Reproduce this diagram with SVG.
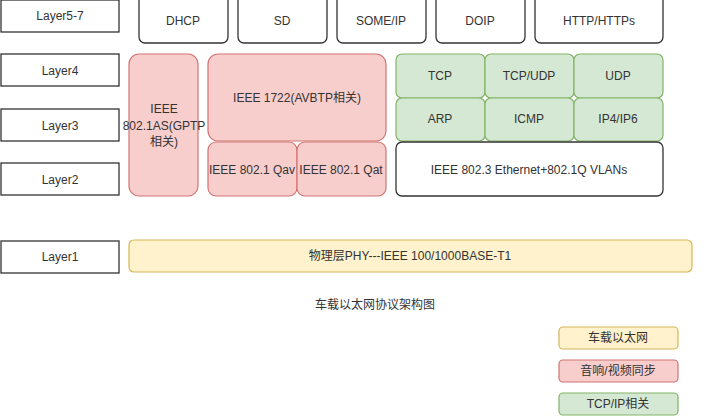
<svg xmlns="http://www.w3.org/2000/svg" width="728" height="419" viewBox="0 0 728 419">
<style>
text{font-family:"Liberation Sans","Noto Sans CJK SC",sans-serif;font-size:12px;fill:#333;text-anchor:middle;dominant-baseline:central}
.L{fill:#fff;stroke:#333;stroke-width:1.3}
.W{fill:#fff;stroke:#333;stroke-width:1.3}
.R{fill:#f8cecc;stroke:#d27474;stroke-width:1.2}
.G{fill:#d5e8d4;stroke:#82b366;stroke-width:1.2}
.Y{fill:#fff2cc;stroke:#d6b656;stroke-width:1.2}
</style>
<rect width="728" height="419" fill="#fff"/>
<g id="layer57"><rect class="L" x="1" y="0" width="118" height="32"/><text x="60" y="16">Layer5-7</text></g>
<g id="layer4"><rect class="L" x="1" y="54" width="118" height="32"/><text x="60" y="71">Layer4</text></g>
<g id="layer3"><rect class="L" x="1" y="109" width="118" height="32"/><text x="60" y="126">Layer3</text></g>
<g id="layer2"><rect class="L" x="1" y="163" width="118" height="32"/><text x="60" y="180">Layer2</text></g>
<g id="layer1"><rect class="L" x="1" y="241" width="118" height="32"/><text x="60" y="257">Layer1</text></g>
<g id="dhcp"><rect class="W" x="139" y="-6" width="89" height="49" rx="6"/><text x="183" y="21">DHCP</text></g>
<g id="sd"><rect class="W" x="238" y="-6" width="89" height="49" rx="6"/><text x="282" y="21">SD</text></g>
<g id="someip"><rect class="W" x="337" y="-6" width="89" height="49" rx="6"/><text x="381" y="21">SOME/IP</text></g>
<g id="doip"><rect class="W" x="436" y="-6" width="89" height="49" rx="6"/><text x="480" y="21">DOIP</text></g>
<g id="http"><rect class="W" x="535" y="-6" width="128" height="49" rx="6"/><text x="599" y="21">HTTP/HTTPs</text></g>
<g id="gptp"><rect class="R" x="129" y="54" width="69" height="142" rx="10"/><text x="164" y="109">IEEE</text><text x="164" y="126">802.1AS(GPTP</text><text x="164" y="142">相关)</text></g>
<g id="ieee1722"><rect class="R" x="208" y="54" width="178" height="87" rx="10"/><text x="297" y="98">IEEE 1722(AVBTP相关)</text></g>
<g id="qav"><rect class="R" x="208" y="142" width="89" height="54" rx="8"/><text x="252" y="170">IEEE 802.1 Qav</text></g>
<g id="qat"><rect class="R" x="297" y="142" width="89" height="54" rx="8"/><text x="341" y="170">IEEE 802.1 Qat</text></g>
<g id="tcp"><rect class="G" x="396" y="54" width="89" height="44" rx="6"/><text x="440" y="76">TCP</text></g>
<g id="tcpudp"><rect class="G" x="485" y="54" width="89" height="44" rx="6"/><text x="529" y="76">TCP/UDP</text></g>
<g id="udp"><rect class="G" x="574" y="54" width="89" height="44" rx="6"/><text x="618" y="76">UDP</text></g>
<g id="arp"><rect class="G" x="396" y="98" width="89" height="43" rx="6"/><text x="440" y="119">ARP</text></g>
<g id="icmp"><rect class="G" x="485" y="98" width="89" height="43" rx="6"/><text x="529" y="119">ICMP</text></g>
<g id="ip"><rect class="G" x="574" y="98" width="89" height="43" rx="6"/><text x="618" y="119">IP4/IP6</text></g>
<g id="ethernet"><rect class="W" x="396" y="142" width="267" height="54" rx="6"/><text x="529" y="170">IEEE 802.3 Ethernet+802.1Q VLANs</text></g>
<g id="phy"><rect class="Y" x="129" y="240" width="563" height="32" rx="5"/><text x="410" y="256">物理层PHY---IEEE 100/1000BASE-T1</text></g>
<g id="caption"><text x="375" y="305">车载以太网协议架构图</text></g>
<g id="legend-eth"><rect class="Y" x="559" y="327" width="119" height="22" rx="4"/><text x="618" y="338">车载以太网</text></g>
<g id="legend-av"><rect class="R" x="559" y="360" width="119" height="22" rx="4"/><text x="618" y="371">音响/视频同步</text></g>
<g id="legend-tcp"><rect class="G" x="559" y="393" width="119" height="22" rx="4"/><text x="618" y="404">TCP/IP相关</text></g>
<g id="connectors"/>
</svg>
